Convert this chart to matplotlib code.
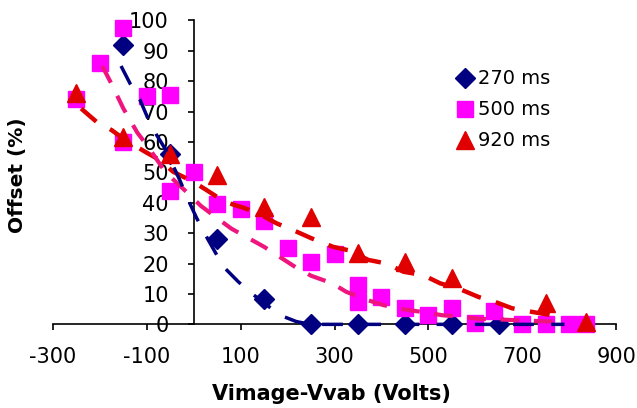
import matplotlib
matplotlib.use('Agg')
import matplotlib.pyplot as plt

plt.rcParams['axes.unicode_minus'] = False

# measured points
navy_x = [-150, -50, 50, 150, 250, 350, 450, 550, 650]
navy_y = [92, 56, 28, 8.5, 0, 0, 0, 0, 0]

pink_x = [-250, -200, -150, -150, -100, -50, -50, 0, 50, 100, 150, 200, 250,
          300, 350, 350, 400, 450, 500, 550, 600, 640, 700, 750, 800, 835]
pink_y = [74, 86, 97.5, 60, 75, 75.5, 44, 50, 39.5, 38, 34, 25, 20.5,
          23, 13, 7.5, 9, 5.5, 3, 5.5, 0.3, 4.5, 0, 0, 0, 0]

red_x = [-250, -150, -50, 50, 150, 250, 350, 450, 550, 750, 835]
red_y = [76, 61.5, 56, 49.3, 38.7, 35.4, 23.5, 20.6, 15.1, 6.9, 0.9]

# trend curves
navy_fit_x = [-155, -135, -115, -97, -80, -60, -45, -30, -12, 6, 30, 63, 95,
              125, 150, 184, 219, 250, 790]
navy_fit_y = [85, 79, 74, 67.5, 62.5, 57.5, 52.5, 47.5, 41, 35, 28, 19, 14,
              10, 7, 3, 0.9, 0, 0]

pink_fit_x = [-195, -175, -150, -120, -100, -60, -15, 15, 45, 80, 115, 150,
              185, 220, 250, 295, 325, 370, 405, 445, 490, 530, 570, 610, 650,
              700, 780]
pink_fit_y = [85, 79, 71, 63, 59, 50, 43.5, 39, 35.5, 31.5, 28.5, 25.5,
              22, 18.5, 16, 13.5, 10.7, 8, 6.3, 5, 4, 3, 2.5, 1.8, 1.6,
              1.3, 0.8]

red_fit_x = [-240, -207, -175, -151, -104, -72, -44, -1, 27, 66, 109, 137,
             177, 219, 251, 297, 329, 372, 411, 447, 489, 525, 564, 607, 642,
             678, 721, 763]
red_fit_y = [71, 66.6, 63.9, 61.2, 56.8, 54, 50.2, 46.9, 44.2, 40.3, 38.2, 36.5,
             33.2, 30.5, 28.3, 25.5, 24.4, 21.2, 20, 17.3, 16.2, 13.5, 11.8, 9, 7.4,
             5.3, 4.1, 3]

labels = ['270 ms', '500 ms', '920 ms']
x_ticks = [-300, -100, 100, 300, 500, 700, 900]
y_ticks = list(range(0, 101, 10))

NAVY = '#000080'
MAGENTA = '#ff00ff'
PINK = '#f0147f'
RED = '#e00000'

fig = plt.figure(figsize=(6.37, 4.08), dpi=100)
ax = fig.add_axes([0.0832, 0.205, 0.884, 0.745])

ax.plot(navy_x, navy_y, 'D', color=NAVY, ms=10, mec=NAVY, clip_on=False, zorder=3, label=labels[0])
ax.plot(pink_x, pink_y, 's', color=MAGENTA, ms=11.5, mec=MAGENTA, clip_on=False, zorder=3, label=labels[1])
ax.plot(red_x, red_y, '^', color=RED, ms=13, mec=RED, clip_on=False, zorder=3, label=labels[2])

ax.plot(red_fit_x, red_fit_y, color=RED, lw=3.2, ls=(0, (4.5, 3.5)), clip_on=False, zorder=4)
ax.plot(pink_fit_x, pink_fit_y, color=PINK, lw=3.0, ls=(0, (4.5, 3.5)), clip_on=False, zorder=4)
ax.plot(navy_fit_x, navy_fit_y, color=NAVY, lw=2.5, ls=(0, (6, 5)), clip_on=False, zorder=5)

ax.set_xlim(-300, 900)
ax.set_ylim(0, 100)
ax.set_xticks(x_ticks)
ax.set_yticks(y_ticks)

ax.spines['top'].set_visible(False)
ax.spines['right'].set_visible(False)
ax.spines['left'].set_position(('data', 0))
ax.spines['left'].set_linewidth(1.2)
ax.spines['bottom'].set_linewidth(1.2)
ax.tick_params(axis='x', direction='out', length=4, width=1.2, pad=12, labelsize=15)
ax.tick_params(axis='y', direction='out', length=4, width=1.2, pad=14, labelsize=15)

ax.set_xlabel('Vimage-Vvab (Volts)', fontsize=15, fontweight='bold')
ax.xaxis.set_label_coords(0.495, -0.195)
fig.text(0.028, 0.57, 'Offset (%)', rotation=90, fontsize=14.5, fontweight='bold',
         ha='center', va='center')

ax.legend(loc='upper left', bbox_to_anchor=(0.714, 0.83), bbox_transform=fig.transFigure,
          frameon=False, fontsize=14, handlelength=1.0, handletextpad=0.2,
          labelspacing=0.62, borderpad=0, borderaxespad=0)

fig.savefig('out.png', dpi=100)
